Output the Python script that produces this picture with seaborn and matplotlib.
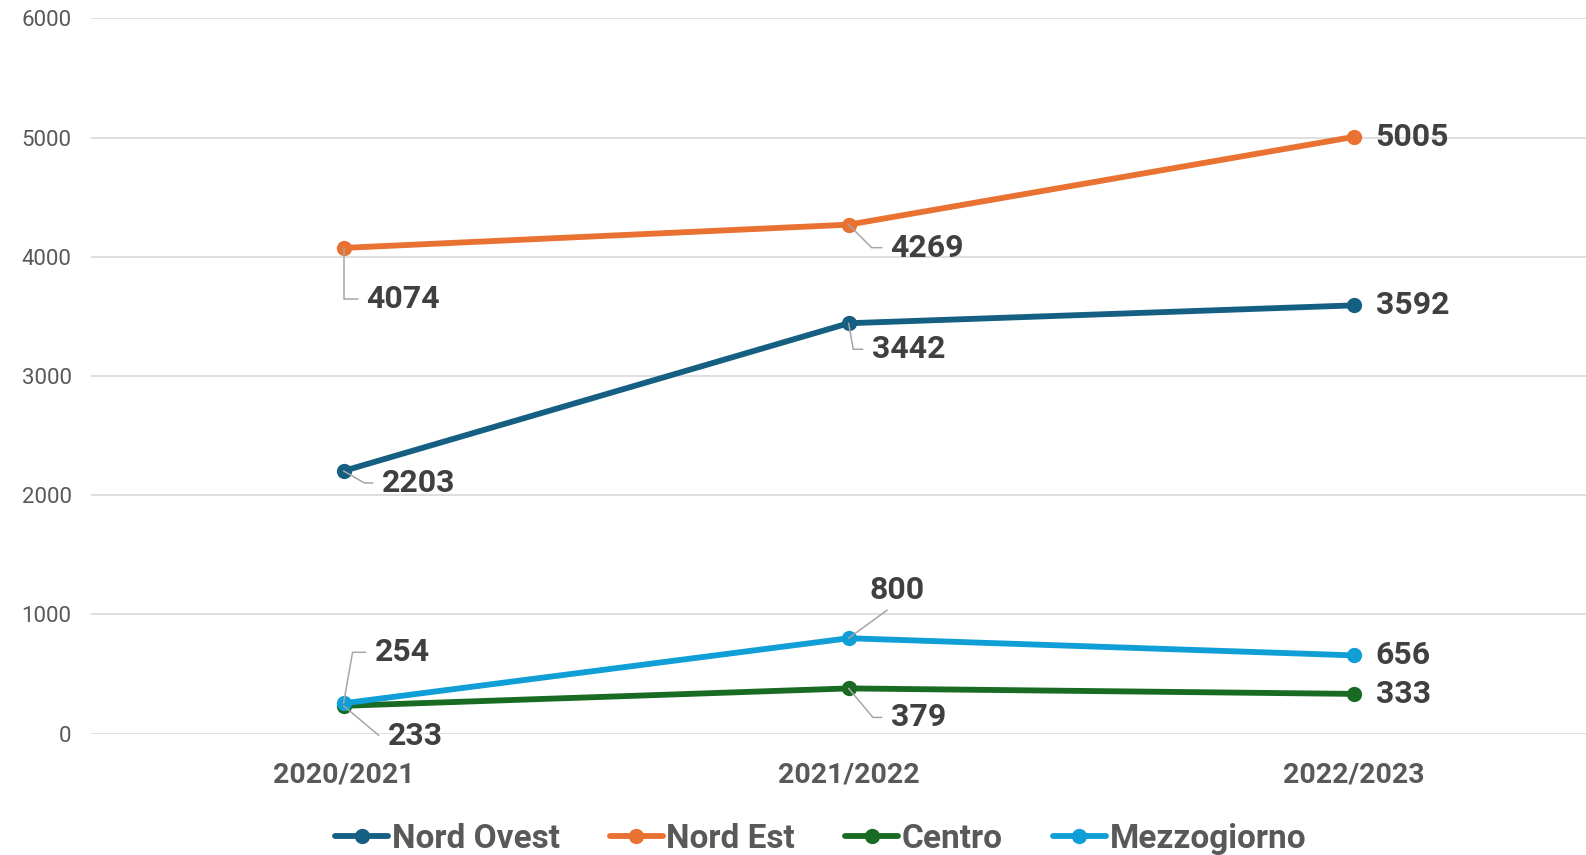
import pandas as pd
import seaborn as sns
import matplotlib.pyplot as plt

anni = ['2020/2021', '2021/2022', '2022/2023']
nord_ovest = [2203, 3442, 3592]
nord_est = [4074, 4269, 5005]
centro = [233, 379, 333]
mezzogiorno = [254, 800, 656]

aree = ['Nord Ovest', 'Nord Est', 'Centro', 'Mezzogiorno']
colori = ['#156082', '#E97132', '#196B24', '#0F9ED5']

df = pd.DataFrame({
    'anno': anni * 4,
    'area': [a for a in aree for _ in anni],
    'valore': nord_ovest + nord_est + centro + mezzogiorno,
})

sns.set_theme(style='white')
plt.rcParams['font.family'] = ['Roboto', 'DejaVu Sans']

fig = plt.figure(figsize=(15.86, 8.55), dpi=100)
ax = fig.add_axes([0.0574, 0.142, 0.9426, 0.8366])

sns.lineplot(data=df, x='anno', y='valore', hue='area', hue_order=aree,
             palette=colori, marker='o', markersize=11, markeredgewidth=0,
             linewidth=4.2, sort=False, ax=ax, legend=True)

# label offsets in pixels (dx, dy) and leader-line angle (None = no leader)
offsets = {
    'Nord Ovest': [(38, -12, -30), (23, -26, -80), (22, 0, None)],
    'Nord Est': [(23, -51, -90), (42, -23, -45), (22, 0, None)],
    'Centro': [(44, -30, -40), (42, -29, -50), (22, 0, None)],
    'Mezzogiorno': [(31, 51, 80), (22, 51, 'up'), (22, 0, None)],
}
serie = dict(zip(aree, [nord_ovest, nord_est, centro, mezzogiorno]))
for area in aree:
    for i, v in enumerate(serie[area]):
        dx, dy, ang = offsets[area][i]
        kw = {}
        if ang == 'up':
            kw['arrowprops'] = dict(arrowstyle='-', color='#a6a6a6', lw=1.1,
                                    shrinkA=2, shrinkB=0, relpos=(0.45, 0))
            ha, va = 'center', 'bottom'
            dx, dy = 48, 33
        elif ang is not None:
            kw['arrowprops'] = dict(arrowstyle='-', color='#a6a6a6', lw=1.1,
                                    shrinkA=4, shrinkB=0, relpos=(0, 0.5),
                                    connectionstyle=f'angle,angleA=0,angleB={ang},rad=0')
            ha, va = 'left', 'center'
        else:
            ha, va = 'left', 'center'
        ax.annotate(str(v), xy=(i, v), xytext=(dx, dy), textcoords='offset pixels',
                    ha=ha, va=va, fontsize=23, fontweight='bold', color='#404040', **kw)

ax.set_xlim(-0.5, 2.46)
ax.set_ylim(0, 6000)
ax.set_yticks(range(0, 6001, 1000))
ax.yaxis.grid(True, color='#d9d9d9', lw=1.2)
ax.set_axisbelow(True)
for s in ax.spines.values():
    s.set_visible(False)
ax.set_xlabel('')
ax.set_ylabel('')
ax.tick_params(axis='y', labelsize=16, labelcolor='#595959', length=0, pad=14)
ax.tick_params(axis='x', labelsize=20.5, labelcolor='#595959', length=0, pad=20)
for t in ax.get_xticklabels():
    t.set_fontweight('bold')

h, l = ax.get_legend_handles_labels()
ax.legend(h, l, loc='upper center', bbox_to_anchor=(0.488, -0.125), ncol=4,
          frameon=False, prop={'size': 24, 'weight': 'bold'},
          labelcolor='#595959', handlelength=1.6, columnspacing=1.5, handletextpad=0.1,
          borderaxespad=0, borderpad=0)

fig.savefig('out.png', dpi=100)
